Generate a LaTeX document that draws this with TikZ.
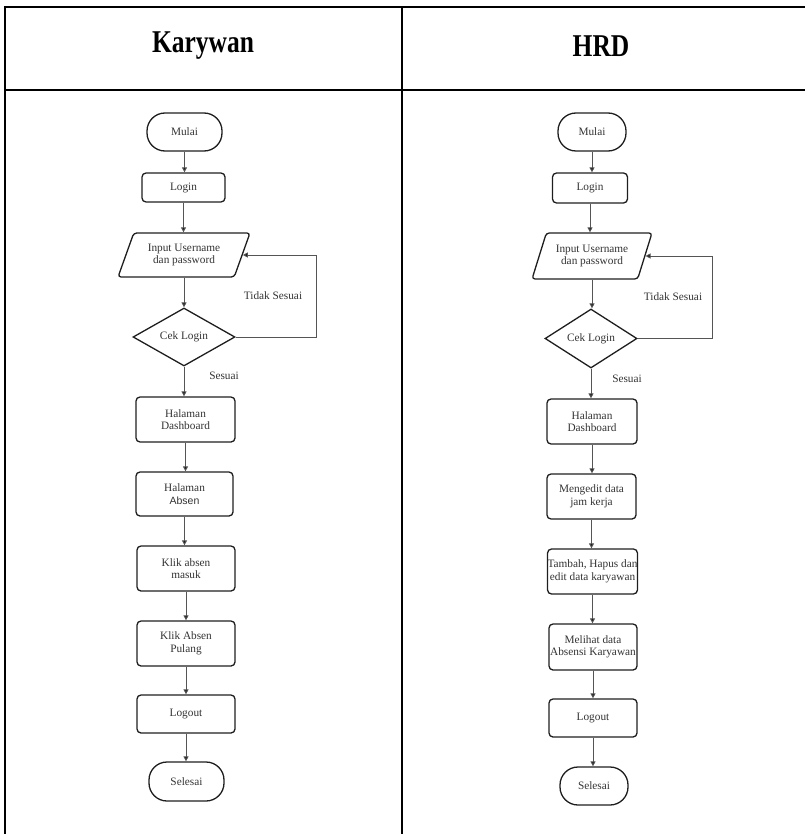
\documentclass[tikz,border=0pt]{standalone}
\usepackage{fontspec}
\usepackage{graphicx}
\setmainfont{Liberation Serif}
\newfontfamily\arialf{Liberation Sans}
\usetikzlibrary{shapes.geometric,arrows.meta}
\definecolor{txt}{HTML}{333333}
\definecolor{edge}{HTML}{1E1E1E}
\definecolor{conn}{HTML}{555555}
\tikzset{
  lbl/.style={font=\fontsize{11.3}{12.5}\selectfont, text=txt, align=center, inner sep=0pt},
  termbox/.style={lbl, draw=edge, line width=1.3pt, rounded corners=18pt},
  procbox/.style={lbl, draw=edge, line width=1.3pt, rounded corners=4pt},
  iobox/.style={lbl, draw=edge, line width=1.3pt, rounded corners=3pt, trapezium,
    trapezium stretches=true, trapezium left angle=63, trapezium right angle=117},
  decbox/.style={lbl, draw=edge, line width=1.3pt, diamond, shape aspect=1.7},
  flow/.style={draw=conn, line width=1pt, -{Triangle[length=5pt,width=5pt,fill=black]}},
  grid/.style={line width=2pt, draw=black},
  hdr/.style={font=\fontsize{26}{30}\selectfont\bfseries, inner sep=0pt}
}
\begin{document}
\begin{tikzpicture}[x=1pt,y=-1pt]
\useasboundingbox (0,0) rectangle (804,834);
% table
\draw[grid] (5,834) -- (5,7) -- (810,7);
\draw[grid] (5,90) -- (810,90);
\draw[grid] (402,7) -- (402,834);
\node[hdr] (hk) at (203,46) {\scalebox{0.98}[1.22]{Karywan}};
\node[hdr] (hh) at (601,46) {\scalebox{0.98}[1.22]{HRD}};

% ---------- left column ----------
\node[termbox, minimum width=75pt, minimum height=38pt] (mulaiL) at (184.5,132) {Mulai};
\node[procbox, minimum width=83pt, minimum height=29pt] (loginL) at (183.5,187.5) {Login};
\node[iobox, minimum width=132pt, minimum height=44pt] (inputL) at (184,255) {Input Username\\dan password};
\node[decbox, minimum width=102pt, minimum height=58pt] (cekL) at (184,337) {Cek Login};
\node[procbox, minimum width=99pt, minimum height=45pt] (dashL) at (185.5,419.5) {Halaman\\Dashboard};
\node[procbox, minimum width=97pt, minimum height=44pt] (absenL) at (184.5,494) {Halaman\\{\arialf\fontsize{10.5}{12.5}\selectfont Absen}};
\node[procbox, minimum width=98pt, minimum height=45pt] (masukL) at (186,568.5) {Klik absen\\masuk};
\node[procbox, minimum width=98pt, minimum height=45pt] (pulangL) at (186,643.5) {Klik Absen\\Pulang};
\node[procbox, minimum width=98pt, minimum height=38pt] (logoutL) at (186,714) {Logout};
\node[termbox, minimum width=75pt, minimum height=39pt] (selesaiL) at (186.5,781.5) {Selesai};
\coordinate (loopL) at (316,0);

\draw[flow] (mulaiL.south) -- (mulaiL.south |- loginL.north);
\draw[flow] (loginL.south) -- (loginL.south |- inputL.north);
\draw[flow] (inputL.south) -- (inputL.south |- cekL.north);
\draw[flow] (cekL.south) -- (cekL.south |- dashL.north);
\draw[flow] (dashL.south) -- (dashL.south |- absenL.north);
\draw[flow] (absenL.south) -- (absenL.south |- masukL.north);
\draw[flow] (masukL.south) -- (masukL.south |- pulangL.north);
\draw[flow] (pulangL.south) -- (pulangL.south |- logoutL.north);
\draw[flow] (logoutL.south) -- (logoutL.south |- selesaiL.north);
\draw[flow] (cekL.east) -- (loopL |- cekL.east) -- (loopL |- inputL.east) -- (inputL.east);
\node[lbl] (tsL) at (273,296) {Tidak Sesuai};
\node[lbl] (sL) at (224,376) {Sesuai};

% ---------- right column ----------
\node[termbox, minimum width=68pt, minimum height=38pt] (mulaiR) at (592,132) {Mulai};
\node[procbox, minimum width=75pt, minimum height=30pt] (loginR) at (590,188) {Login};
\node[iobox, minimum width=120pt, minimum height=46pt] (inputR) at (592,256) {Input Username\\dan password};
\node[decbox, minimum width=92pt, minimum height=59pt] (cekR) at (591,338.5) {Cek Login};
\node[procbox, minimum width=90pt, minimum height=45pt] (dashR) at (592,421.5) {Halaman\\Dashboard};
\node[procbox, minimum width=89pt, minimum height=45pt] (mengR) at (591.5,496.5) {Mengedit data\\jam kerja};
\node[procbox, minimum width=89pt, minimum height=45pt] (tambahR) at (592.5,571.5) {Tambah, Hapus dan\\edit data karyawan};
\node[procbox, minimum width=88pt, minimum height=46pt] (melihatR) at (593,647) {Melihat data\\Absensi Karyawan};
\node[procbox, minimum width=88pt, minimum height=38pt] (logoutR) at (593,718) {Logout};
\node[termbox, minimum width=68pt, minimum height=38pt] (selesaiR) at (594,786) {Selesai};
\coordinate (loopR) at (712,0);

\draw[flow] (mulaiR.south) -- (mulaiR.south |- loginR.north);
\draw[flow] (loginR.south) -- (loginR.south |- inputR.north);
\draw[flow] (inputR.south) -- (inputR.south |- cekR.north);
\draw[flow] (cekR.south) -- (cekR.south |- dashR.north);
\draw[flow] (dashR.south) -- (dashR.south |- mengR.north);
\draw[flow] (mengR.south) -- (mengR.south |- tambahR.north);
\draw[flow] (tambahR.south) -- (tambahR.south |- melihatR.north);
\draw[flow] (melihatR.south) -- (melihatR.south |- logoutR.north);
\draw[flow] (logoutR.south) -- (logoutR.south |- selesaiR.north);
\draw[flow] (cekR.east) -- (loopR |- cekR.east) -- (loopR |- inputR.east) -- (inputR.east);
\node[lbl] (tsR) at (673,297) {Tidak Sesuai};
\node[lbl] (sR) at (627,379) {Sesuai};
\end{tikzpicture}
\end{document}
